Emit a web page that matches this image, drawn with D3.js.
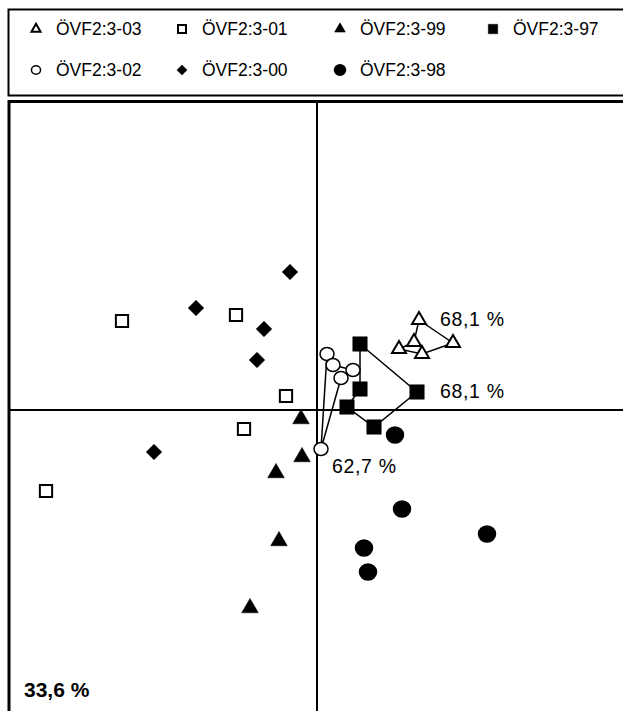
<!DOCTYPE html>
<html>
<head>
<meta charset="utf-8">
<script src="https://cdn.jsdelivr.net/npm/d3@7"></script>
<style>
  body { margin: 0; background: #fff; }
  svg { display: block; font-family: "Liberation Sans", Arial, sans-serif; }
</style>
</head>
<body>
<div id="chart"></div>
<script>
// series names, in legend order
const seriesNames = ["ÖVF2:3-03", "ÖVF2:3-01", "ÖVF2:3-99", "ÖVF2:3-97", "ÖVF2:3-02", "ÖVF2:3-00", "ÖVF2:3-98"];

// scores [x, y]; hull groups are listed in outline order
const pts03 = [[1.02, 0.90], [1.36, 0.67], [1.05, 0.56], [0.82, 0.61], [0.97, 0.68]];
const pts01 = [[-1.95, 0.89], [-0.81, 0.95], [-0.31, 0.14], [-0.73, -0.19], [-2.71, -0.81]];
const pts99 = [[-0.16, -0.09], [-0.15, -0.47], [-0.41, -0.63], [-0.38, -1.31], [-0.67, -1.98]];
const pts97 = [[0.43, 0.66], [1.00, 0.18], [0.57, -0.17], [0.30, 0.03], [0.43, 0.21]];
const pts02 = [[0.04, -0.39], [0.10, 0.56], [0.16, 0.45], [0.36, 0.40], [0.24, 0.32]];
const pts00 = [[-0.27, 1.38], [-1.21, 1.02], [-0.53, 0.81], [-0.60, 0.50], [-1.63, -0.42]];
const pts98 = [[0.78, -0.25], [0.85, -0.99], [1.70, -1.24], [0.47, -1.38], [0.51, -1.62]];

// hull labels [x, y, text]
const hullLabels = [[1.23, 0.84, "68,1 %"], [1.23, 0.12, "68,1 %"], [0.15, -0.63, "62,7 %"]];
const cornerLabel = "33,6 %";

const W = 623, H = 711;
const svg = d3.select("#chart").append("svg").attr("width", W).attr("height", H);

const x = d3.scaleLinear().domain([-3.09, 3.06]).range([8, 623]);
const y = d3.scaleLinear().domain([3.09, -3.01]).range([101, 711]);

// legend box
svg.append("rect")
  .attr("x", 8.5).attr("y", 9.5).attr("width", 640).attr("height", 86)
  .attr("fill", "none").attr("stroke", "#000").attr("stroke-width", 2);

// plot frame
svg.append("rect")
  .attr("x", 9).attr("y", 101.5).attr("width", 640).attr("height", 640)
  .attr("fill", "none").attr("stroke", "#000").attr("stroke-width", 3);

// zero lines
svg.append("line")
  .attr("x1", 8).attr("x2", W).attr("y1", y(0)).attr("y2", y(0))
  .attr("stroke", "#000").attr("stroke-width", 2);
svg.append("line")
  .attr("x1", x(0)).attr("x2", x(0)).attr("y1", 101).attr("y2", H)
  .attr("stroke", "#000").attr("stroke-width", 2);

// marker shapes
const markers = {
  "ÖVF2:3-03": { shape: d3.symbolTriangle, fill: "#fff", size: 85 },
  "ÖVF2:3-01": { shape: d3.symbolSquare, fill: "#fff", size: 150 },
  "ÖVF2:3-99": { shape: d3.symbolTriangle, fill: "#000", size: 120 },
  "ÖVF2:3-97": { shape: d3.symbolSquare, fill: "#000", size: 210 },
  "ÖVF2:3-02": { shape: "ellipse", fill: "#fff", rx: 7, ry: 6.5 },
  "ÖVF2:3-00": { shape: d3.symbolDiamond2, fill: "#000", size: 155 },
  "ÖVF2:3-98": { shape: "ellipse", fill: "#000", rx: 8.5, ry: 8 }
};

function drawMarker(g, name, cx, cy, scale) {
  const m = markers[name];
  const k = scale || 1;
  if (m.shape === "ellipse") {
    g.append("ellipse")
      .attr("cx", cx).attr("cy", cy)
      .attr("rx", m.rx * k).attr("ry", m.ry * k)
      .attr("fill", m.fill).attr("stroke", "#000").attr("stroke-width", 1.5);
  } else {
    g.append("path")
      .attr("transform", `translate(${cx},${cy})`)
      .attr("d", d3.symbol().type(m.shape).size(m.size * k * k)())
      .attr("fill", m.fill).attr("stroke", "#000")
      .attr("stroke-width", m.fill === "#fff" ? 2 : 0.5);
  }
}

// hull outlines
const line = d3.line().x(d => x(d[0])).y(d => y(d[1])).curve(d3.curveLinearClosed);
[pts97, pts03, pts02].forEach(p => {
  svg.append("path").attr("d", line(p))
    .attr("fill", "none").attr("stroke", "#000").attr("stroke-width", 1.5);
});

// points
const allSeries = [
  ["ÖVF2:3-01", pts01], ["ÖVF2:3-00", pts00], ["ÖVF2:3-99", pts99],
  ["ÖVF2:3-98", pts98], ["ÖVF2:3-97", pts97], ["ÖVF2:3-03", pts03], ["ÖVF2:3-02", pts02]
];
const gPts = svg.append("g");
allSeries.forEach(([name, p]) => {
  p.forEach(d => drawMarker(gPts, name, x(d[0]), y(d[1])));
});

// hull labels
svg.selectAll(".hl").data(hullLabels).enter().append("text")
  .attr("x", d => x(d[0])).attr("y", d => y(d[1]))
  .attr("font-size", 19.5).attr("textLength", 64).attr("lengthAdjust", "spacing")
  .text(d => d[2]);

svg.append("text").attr("x", 24).attr("y", 697)
  .attr("font-size", 21).attr("font-weight", "bold").text(cornerLabel);

// legend
const legendPos = [[36, 29], [182, 29], [340, 29], [493, 29], [36, 70], [182, 70], [340, 70]];
const gLeg = svg.append("g");
seriesNames.forEach((name, i) => {
  const [lx, ly] = legendPos[i];
  drawMarker(gLeg, name, lx, ly, 0.65);
  gLeg.append("text").attr("x", lx + 20).attr("y", ly + 6)
    .attr("font-size", 17.5).text(name);
});
</script>
</body>
</html>
